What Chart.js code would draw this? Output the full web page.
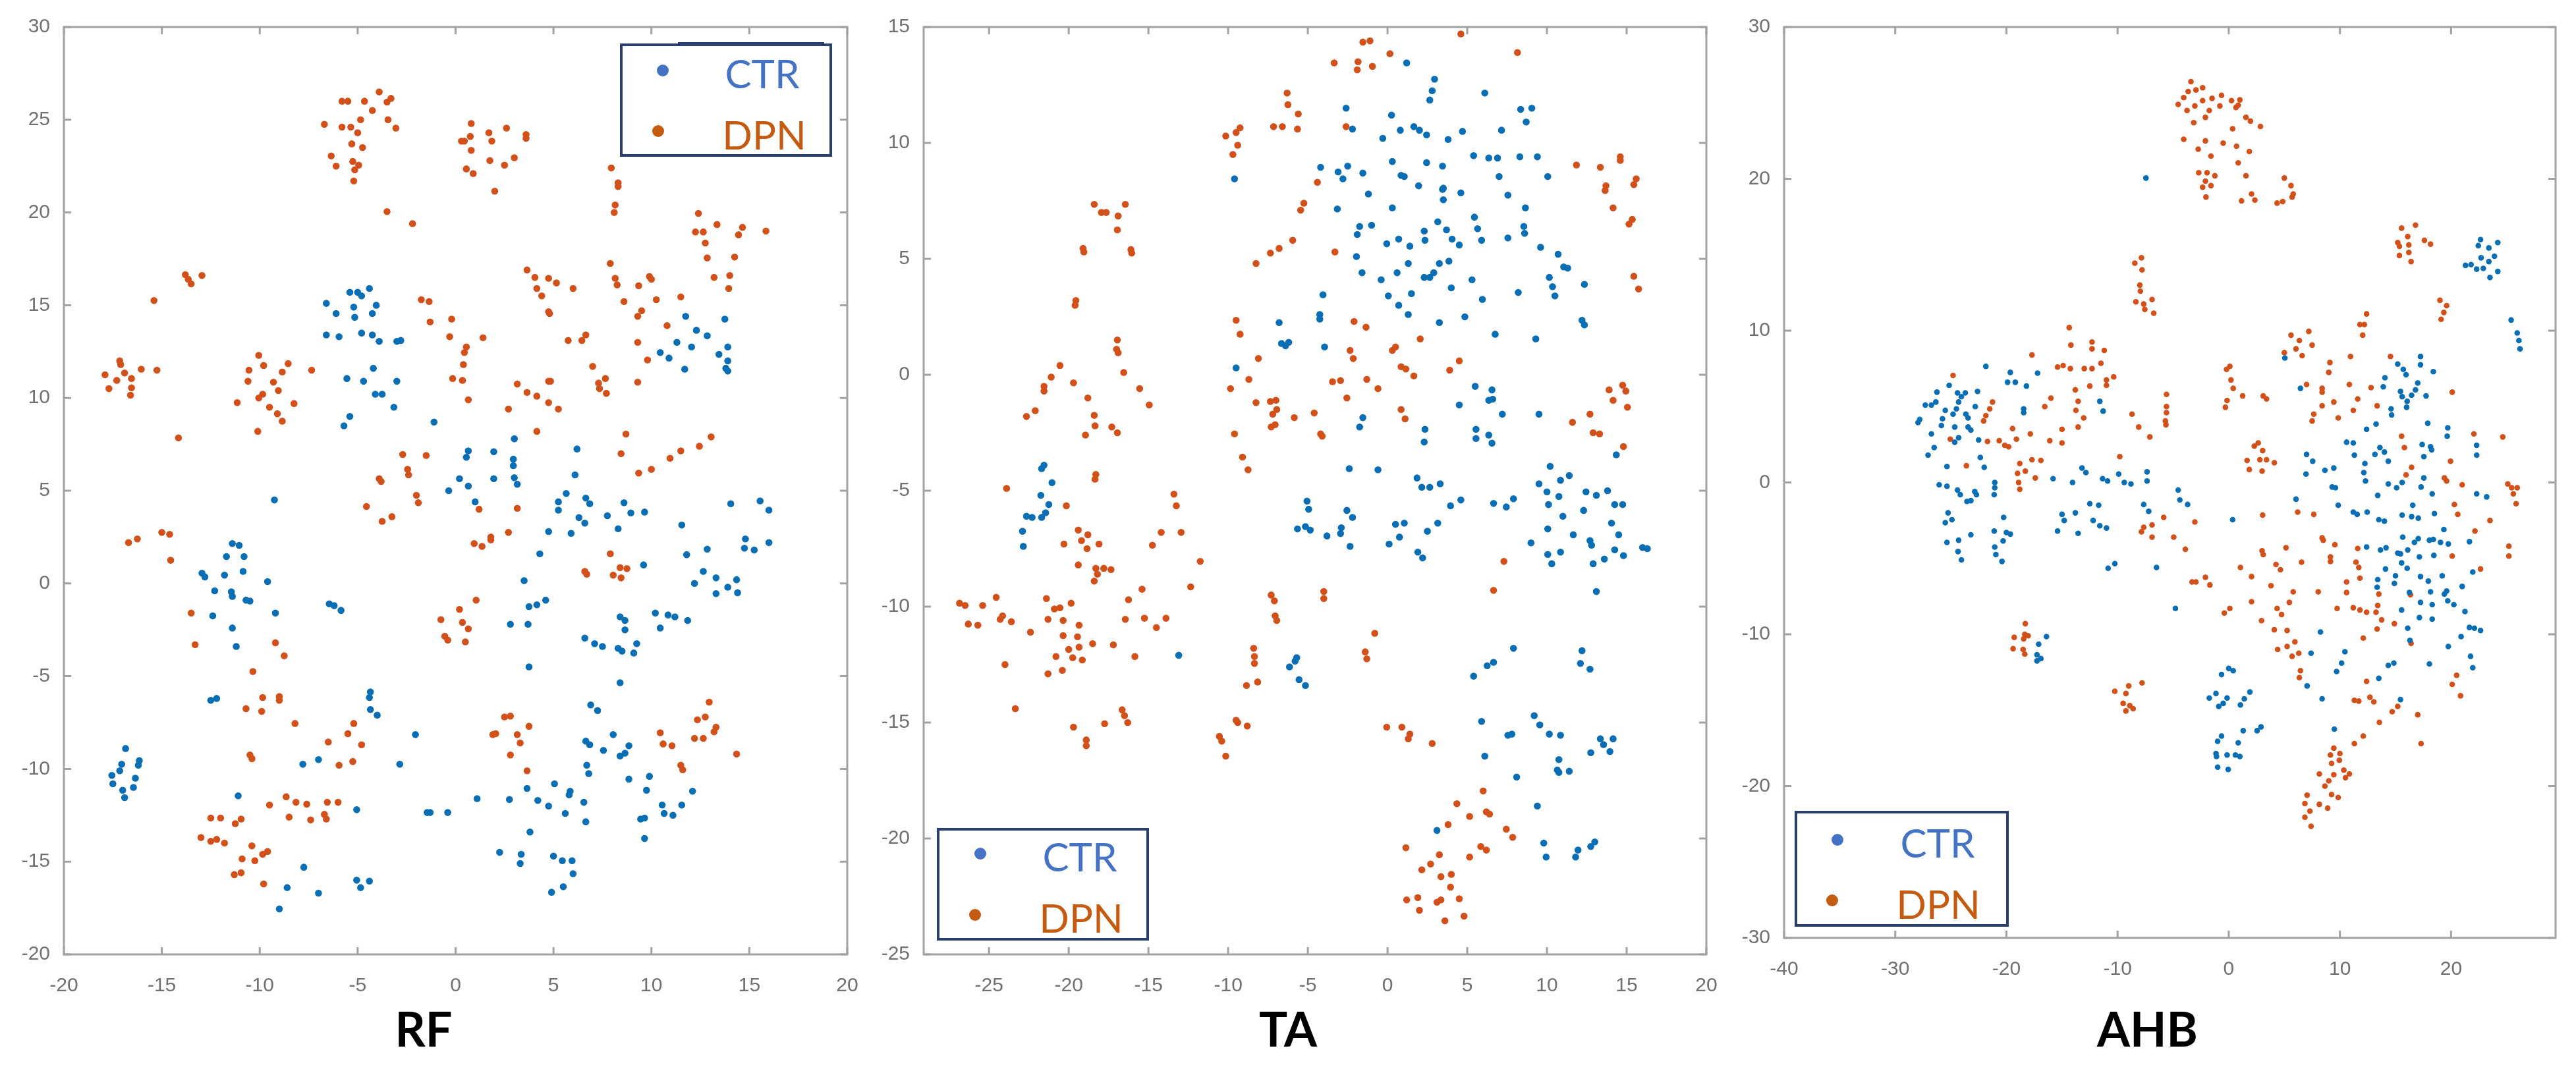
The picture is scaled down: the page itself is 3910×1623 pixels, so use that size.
<!DOCTYPE html>
<html>
<head>
<meta charset="utf-8">
<title>t-SNE RF / TA / AHB</title>
<script src="https://cdn.jsdelivr.net/npm/chart.js@4/dist/chart.umd.min.js"></script>
<style>
  html, body { margin:0; padding:0; background:#fff; width:3910px; height:1623px; overflow:hidden; }
  canvas { position:absolute; top:0; filter:blur(.7px); }
  .legend { position:absolute; box-sizing:border-box; border:4px solid #2a3f6b; background:#fff; z-index:5; }
  .legend span { position:absolute; transform:translate(-50%,-50%); font:60px Lato, sans-serif; line-height:1; }
  .legend i { position:absolute; width:18px; height:18px; border-radius:50%; transform:translate(-50%,-50%); }
  .legend b { position:absolute; left:84px; right:8px; top:-6px; height:3px; background:#2a3f6b; }
</style>
</head>
<body>
<script>
/* ---------- data: [x, y] ---------- */
const seriesNames = ["CTR", "DPN"];

const rfCtr = [[-6.6,15.1],[-5.4,15.7],[-5,15.7],[-4.8,15.5],[-4.4,15.9],[-4.05,15],[-5.2,14.9],[-5.15,14.35],[-6.1,14.55],[-4.25,14.55],[-6.6,13.4],[-5.95,13.3],[-4.8,13.5],[-4.25,13.4],[-3.9,13.05],[-3,13.05],[-2.8,13.1],[-5.55,11.05],[-4.7,10.9],[-4.2,11.6],[-3,10.9],[-4.1,10.2],[-3.75,10.2],[-3.15,9.5],[-5.4,9],[-5.7,8.5],[-1.1,8.7],[-9.25,4.5],[3,7.8],[.65,7.15],[.55,6.8],[1.95,7.1],[2.95,6.7],[2.95,6.35],[6.2,7.25],[6.1,5.85],[.2,5.65],[.65,5.25],[1.95,5.65],[3,5.7],[3.15,5.35],[-.35,5],[1,4.4],[5.65,4.85],[5.25,4.4],[5.25,3.95],[6.65,4.6],[6.85,4.3],[8.6,4.35],[6.3,3.55],[6.6,3.25],[7.75,3.65],[8.95,3.8],[9.65,3.85],[14.05,4.3],[15.55,4.45],[16,3.95],[4.75,2.8],[5.9,2.7],[8.3,2.95],[11.55,3.15],[11.75,14.4],[13.75,14.25],[12.3,13.65],[12.85,13.35],[11.3,13],[12.05,12.75],[13.9,12.75],[13.45,12.35],[10.45,12.45],[10.9,12.15],[11.7,11.55],[13.9,12],[13.8,11.6],[13.9,11.45],
  [14.8,2.4],[14.75,1.9],[15.25,1.8],[16,2.2],[12.85,1.85],[11.8,1.55],[9.6,1],[4.3,1.6],[-11.4,2.15],[-11.05,2.05],[-11.7,1.45],[-10.8,1.45],[-10.85,.65],[-11.8,.45],[-12.95,.55],[-12.8,.35],[-9.6,.1],[-12.3,-.4],[-11.45,-.45],[-11.4,-.7],[-10.7,-.9],[-10.5,-.95],[-9.2,-1.6],[-12.4,-1.75],[-11.4,-2.4],[-11.2,-3.4],[-12.5,-6.3],[-12.2,-6.2],[-6.45,-1.1],[-6.2,-1.2],[-5.85,-1.45],[-4.35,-5.85],[-4.4,-6.15],[-4.35,-6.8],[-4,-7.1],[-2.05,-8.15],[-2.85,-9.75],[-7.8,-9.75],[-7,-9.5],[-5.05,-12.2],[-11.1,-11.45],[-1.45,-12.35],[-1.3,-12.35],[-.4,-12.35],[1.1,-11.6],[2.75,-11.65],[3.65,-11.05],[4.2,-11.7],[4.75,-12],[5.05,-10.8],[5.85,-11.2],[5.8,-11.4],[5.6,-12.4],[6.55,-11.8],[6.65,-12.85],[3.8,-13.4],[2.25,-14.5],[3.35,-14.6],[3.3,-15.1],[5,-14.7],[5.45,-14.95],[5.95,-14.95],[6,-15.65],[5.5,-16.35],[4.9,-16.65],[-7.75,-15.3],[-8.6,-16.4],[-5.05,-16],[-4.85,-16.4],[-4.4,-16.05],[-7,-16.7],[-9,-17.55],
  [-16.85,-8.9],[-16.15,-9.55],[-16.2,-9.8],[-17.05,-9.75],[-17.15,-10.1],[-17.55,-10.35],[-17.5,-10.8],[-16.35,-10.5],[-17,-11.15],[-16.45,-11],[-16.9,-11.55],[12.2,0],[12.65,.65],[13.3,.3],[14.35,.2],[13.9,-.2],[13.3,-.55],[14.4,-.5],[3.5,.15],[4.6,-.9],[4.15,-1.15],[3.75,-1.25],[2.8,-2.2],[3.7,-2.2],[3.75,-4.5],[8.4,-5.35],[8.4,-1.8],[8.65,-2],[8.65,-2.5],[10.2,-1.6],[10.85,-1.7],[11.2,-1.8],[11.85,-2],[10.45,-2.4],[6.6,-2.95],[7.1,-3.25],[7.5,-3.4],[8.3,-3.5],[8.5,-3.65],[9.25,-3.25],[9.1,-3.75],[6.9,-6.55],[7.25,-6.85],[8.05,-8.15],[6.65,-8.5],[6.85,-8.7],[7.55,-9],[8.85,-8.75],[8.4,-9.3],[8.65,-9.15],[6.7,-9.8],[6.8,-10.25],[8.85,-10.55],[9.9,-10.4],[9.75,-11.15],[12.1,-11.2],[10.55,-11.95],[10.65,-12.4],[11.1,-12.5],[11.55,-11.95],[9.45,-12.7],[9.65,-12.65],[9.65,-13.75]];

const rfDpn = [[-6.7,24.75],[-5.8,26],[-5.5,26],[-4.65,26],[-3.9,26.5],[-3.3,26.15],[-3.5,25.95],[-4.25,25.5],[-4.85,25],[-5.8,24.6],[-5.35,24.6],[-5,24.3],[-3.45,25],[-3.05,24.55],[-5.3,23.7],[-4.75,23.5],[-6.35,23.05],[-6.1,22.5],[-5.25,22.75],[-5.15,22.3],[-4.95,22.55],[-5.2,21.7],[-3.5,20.05],[-2.2,19.4],[.8,24.8],[2.6,24.55],[1.7,24.3],[1.85,23.85],[.75,24.1],[.45,23.85],[.3,23.85],[3.6,24.2],[3.6,24],[.8,23.35],[3,22.95],[1.75,22.8],[2.5,22.55],[.55,22.35],[.9,22.1],[2,21.15],[7.95,22.4],[8.3,21.6],[8.3,21.4],[8.15,20.4],[8.1,20],[12.4,19.95],[13.35,19.35],[12.25,18.95],[12.65,18.95],[14.65,19.2],[14.45,18.8],[15.85,19],[12.75,18.35],[12.85,17.55],[14.25,17.6],[13.2,16.5],[14,16.6],[13.95,15.9],[11.5,15.45],[7.9,17.25],[8.15,16.45],[8.25,16.1],[8.6,15.2],[9.9,16.55],[10,16.4],[9.35,16.05],[10.25,15.3],[9.5,14.7],[9.3,14.4],[10.8,13.9],[9.3,13],[9.8,12.05],[9.3,10.85],[3.65,16.9],[4.05,16.5],[4.75,16.45],[5.15,16.2],[6,15.9],[4.15,15.9],[4.4,15.5],[4.75,14.65],[4.8,14.55],[5.75,13.1],[6.65,13.4],[6.45,13.1],[7,11.7],[7.65,11.05],[7.3,10.8],[7.35,10.5],[7.7,10.25],[3.15,10.75],[3.65,10.3],[4.15,10.1],[4.75,10.9],[4.85,10.9],[4.75,9.75],[5.25,9.4],[2.7,9.4],[4.15,8.2],[8.7,8.05],[8.45,7],[13.05,7.9],[12.45,7.4],[11.5,7.15],[10.95,6.75],[10,6.15],[9.35,5.95],
  [-1.75,15.3],[-1.35,15.2],[-1.3,14.1],[-.2,14.25],[-.3,13.3],[1.4,13.25],[.55,12.75],[.45,12.45],[.4,11.8],[-.15,11.05],[.35,10.95],[.65,9.9],[-2.7,6.95],[-1.5,6.9],[-2.45,6.15],[-2.4,5.85],[-3.9,5.65],[-3.8,5.5],[-2,4.75],[-1.9,4.35],[-4.55,4.15],[-3.25,3.6],[-3.75,3.35],[1.2,4],[3.15,4.05],[2.7,2.75],[1.8,2.5],[-12.95,16.6],[-13.8,16.65],[-13.65,16.4],[-13.5,16.15],[-15.4,15.25],[-17.15,12],[-17.1,11.8],[-17.9,11.25],[-16.9,11.35],[-16.05,11.55],[-15.25,11.5],[-16.55,11.05],[-17.3,10.95],[-17.7,10.5],[-16.55,10.55],[-16.6,10.15],[-14.15,7.85],[-10.05,12.3],[-9.8,11.75],[-8.55,11.85],[-8.85,11.4],[-10.55,11.5],[-10.6,10.9],[-9.3,10.85],[-7.35,11.5],[-9.05,10.4],[-9.85,10.2],[-10.05,10],[-11.15,9.75],[-8.25,9.7],[-9.5,9.5],[-9.1,9.15],[-8.85,8.75],[-10.1,8.2],
  [-16.7,2.2],[-16.25,2.4],[-15,2.75],[-14.6,2.65],[-14.55,1.25],[-13.5,-1.6],[-13.3,-3.3],[-9.2,-3.2],[-8.75,-3.9],[-10.35,-4.75],[-9.85,-6.15],[-9,-6.1],[-9,-6.3],[-10.7,-6.75],[-9.9,-6.9],[-8.2,-7.55],[-10.5,-9.25],[-10.4,-9.45],[-5.2,-7.55],[-5.5,-8.1],[-6.5,-8.55],[-4.8,-8.7],[-5.25,-9.6],[-5.95,-9.8],[-8.65,-11.5],[-9.5,-11.95],[-8.15,-11.8],[-7.6,-11.9],[-6.55,-11.8],[-6,-11.8],[-8.5,-12.6],[-7.4,-12.75],[-6.7,-12.45],[-6.6,-12.7],[-12.5,-12.65],[-12,-12.65],[-10.95,-12.7],[-11.25,-12.95],[-13,-13.7],[-12.5,-13.9],[-12.2,-13.8],[-11.8,-14],[-10.4,-14.15],[-9.6,-14.45],[-9.85,-14.6],[-10.9,-14.85],[-10.25,-14.95],[-11.3,-15.7],[-10.95,-15.6],[-9.8,-16.2],[.95,2.15],[1.35,2],[1.8,2.35],[1.05,-.9],[.2,-1.4],[-.75,-1.95],[.35,-2.1],[.65,-2.45],[-.55,-2.85],[-.4,-3.05],[.5,-3.15],[7.9,1.6],[6.6,.65],[6.7,.5],[8.05,.45],[8.45,.3],[8.4,.85],[8.75,.8],[2.5,-7.2],[2.8,-7.15],[3.75,-7.7],[1.9,-8.15],[2.05,-8.1],[3.15,-8.15],[3.3,-8.6],[2.8,-9.25],[3.65,-10.1],[12.95,-6.4],[12.35,-7.35],[12.75,-7.2],[13.3,-7.75],[13.2,-8],[10.45,-8.05],[12.2,-8.35],[12.65,-8.35],[10.6,-8.65],[11.05,-8.75],[14.35,-9.2],[11.5,-9.8],[11.6,-10.05]];

const taCtr = [[1.2,13.45],[2.95,12.75],[2.8,12.25],[2.65,11.85],[6.1,12.15],[-2.6,11.5],[8.35,11.45],[9.05,11.5],[8.7,10.9],[.25,11.2],[-2.2,10.6],[.8,10.55],[1.65,10.7],[2,10.55],[2.45,10.35],[-.3,10.2],[3.8,10.15],[4.7,10.5],[7.15,10.55],[-4.2,8.95],[-3.1,8.75],[-2.8,8.45],[-2.5,9],[-1.55,8.7],[.3,9.2],[.85,8.6],[1.05,8.55],[2.45,9.15],[3.45,9],[5.4,9.45],[6.35,9.35],[6.9,9.35],[8.3,9.4],[9.4,9.4],[7,8.55],[10.05,8.55],[1.95,8.15],[3.5,8.05],[3.45,8],[3.5,7.55],[4.6,7.85],[-1.2,7.8],[7.55,7.75],[-3.15,7.15],[.3,7.2],[8.65,7.2],[5.45,6.8],[3.15,6.6],[3.7,6.25],[5.65,6.3],[-1.75,6.4],[-1.9,6.05],[-1,6.45],[2.3,6.2],[8.55,6.4],[8.6,6.1],[7.55,5.9],[5.9,5.8],[4.05,5.85],[4.5,5.6],[.7,5.85],[-.05,5.65],[2.35,5.8],[1.4,5.55],[9.6,5.5],[10.7,5.2],[-1.95,5.1],[1.3,4.8],[3.25,4.8],[3.85,4.9],[2.9,4.4],[2.65,4.2],[2.3,4.2],[.6,4.4],[-1.6,4.4],[-.4,4.1],[5.3,4.1],[11.05,4.65],[11.3,4.6],[10.15,4.2],[10.35,3.8],[10.5,3.4],[12.35,3.9],[4,3.75],[.05,3.4],[1.5,3.5],[8.2,3.55],[5.95,3.25],[.7,3],[-4.05,3.45],[1.3,2.6],[4.85,2.5],[3.25,2.25],[12.2,2.35],[12.35,2.15],[-4.25,2.6],[-4.25,2.4],[-6.8,2.25],[6.75,1.75],[9.3,1.55],[-6.65,1.35],[-6.4,1.25],[-6.2,1.4],[-3.95,1.2],[-9.5,.3],[-9.6,8.45],
  [5.5,-.5],[6.55,-.65],[6.6,-1.05],[6.35,-1.1],[4.5,-1.3],[7.2,-1.7],[9.5,-1.7],[-1.55,-1.85],[-1.75,-2.25],[2.35,-2.35],[2.3,-2.9],[5.55,-2.35],[5.55,-2.75],[6.35,-2.6],[6.55,-2.95],[14.35,-3.45],[10.2,-3.95],[11.4,-4.35],[10.85,-4.55],[9.5,-4.7],[1.85,-4.45],[2.15,-4.85],[2.65,-4.85],[3.3,-4.7],[-2.4,-4.05],[-.6,-4.1],[-21.7,-4.05],[-21.55,-3.9],[-21.05,-4.65],[-21.75,-5.2],[-21.25,-5.6],[-21.45,-5.95],[-21.7,-6.15],[-22.65,-6.1],[-22.3,-6.15],[-22.9,-6.75],[10,-5.05],[10.75,-5.25],[12.45,-5.05],[13.1,-5.2],[13.8,-5],[7.9,-5.35],[4.6,-5.4],[3.95,-5.65],[6.65,-5.55],[7.45,-5.7],[10.1,-5.6],[14.25,-5.6],[14.75,-5.6],[12.3,-5.85],[11,-6.1],[14.05,-6.4],[-5.05,-5.45],[-4.95,-5.8],[-2.55,-5.85],[-2.2,-6.15],[-5.65,-6.65],[-5.15,-6.55],[-4.85,-6.7],[-3.8,-6.95],[-2.9,-6.6],[-2.95,-6.85],[.5,-6.45],[1.05,-6.4],[3.15,-6.4],[2.5,-6.75],[.75,-7],[10.05,-6.65],[11.65,-6.9],[14.5,-6.9],
  [-22.85,-7.4],[.1,-7.3],[1.9,-7.65],[2.2,-7.9],[-2.35,-7.4],[9,-7.25],[10.05,-7.75],[10.3,-8.15],[10.85,-7.65],[12.7,-7.15],[12.8,-7.35],[14.25,-7.55],[14.8,-7.8],[13.6,-7.95],[12.9,-8.15],[16,-7.45],[16.3,-7.5],[13.1,-9.35],[-13.1,-12.1],[-5.7,-12.2],[-5.8,-12.35],[-6.15,-12.6],[-5.55,-13.15],[-5.15,-13.4],[7.9,-11.8],[6.65,-12.4],[6.25,-12.55],[5.4,-13],[12.2,-11.9],[12.1,-12.45],[12.7,-12.7],[5.9,-14.95],[9.2,-14.7],[9.55,-15.1],[7.8,-15.5],[7.55,-15.55],[10.15,-15.5],[10.85,-15.55],[13.35,-15.7],[13.55,-15.95],[14.15,-15.7],[12.75,-16.3],[13.95,-16.25],[6.1,-16.45],[10.75,-16.6],[10.65,-17.05],[10.75,-17.15],[11.4,-17.1],[8.1,-17.35],[9.4,-18.6],[3.1,-19.65],[9.8,-20.2],[9.95,-20.8],[11.95,-20.5],[11.8,-20.8],[12.75,-20.35],[13,-20.15]];

const taDpn = [[4.6,14.7],[-1.55,14.35],[-1.1,14.4],[8.15,13.9],[.15,13.85],[-3.35,13.45],[-1.85,13.5],[-1.9,13.15],[-.95,13.3],[-6.3,12.15],[-6.25,11.65],[-5.6,11.25],[-7.15,10.7],[-6.6,10.7],[-5.65,10.6],[-2.6,10.7],[-10.15,10.3],[-9.25,10.65],[-9.5,10.45],[-9.4,9.9],[-9.7,9.5],[-4.4,8.3],[-5.25,7.4],[-5.45,7.1],[-5.95,5.8],[-6.8,5.45],[-7.35,5.25],[-8.25,4.8],[-3.3,5.3],[11.85,9.05],[13.35,8.95],[14.6,9.25],[14.6,9.4],[13.7,8.15],[13.65,7.95],[15.6,8.45],[15.45,8.2],[14.15,7.2],[15.35,6.7],[15.15,6.5],[15.45,4.25],[15.75,3.7],[-18.4,7.35],[-17.95,7],[-17.65,7],[-16.45,7.35],[-16.9,6.85],[-16.95,6.25],[-19.1,5.45],[-19.05,5.3],[-16.1,5.4],[-16.05,5.25],[-19.55,3.2],[-19.6,3],[-16.95,1.5],[-17,1.1],[-16.9,.95],[-16.55,.1],[-20.55,.4],[-21.1,-.1],[-21.55,-.5],[-21.55,-.7],[-19.7,-.35],[-15.55,-.6],[-18.8,-1],[-14.95,-1.3],[-22.1,-1.55],[-22.65,-1.8],[-18.4,-1.75],[-18.35,-2.2],[-17.3,-2.25],[-16.95,-2.5],[-18.95,-2.6],[-18.3,-4.3],[-18.35,-4.5],[-23.9,-4.9],[-13.4,-5.15],[-13.25,-5.65],[-20.15,-5.65],[-19.4,-6.7],[-18.8,-6.9],[-14.2,-6.8],[-12.95,-6.8],
  [-9.5,2.35],[-9.25,1.75],[-8.1,.7],[-8.7,-.2],[-9.85,-.6],[-8.25,-1.2],[-7.35,-1.15],[-7,-1.1],[-6.95,-1.5],[-7.2,-1.7],[-7.05,-2.15],[-7.3,-2.25],[-5.85,-1.85],[-4.6,-1.65],[-9.6,-2.55],[-4.2,-2.55],[-4.1,-2.65],[-9.1,-3.55],[-8.75,-4.1],[-2.1,2.3],[-1.35,2.05],[-2.35,1.05],[-2.15,.7],[-3.45,-.3],[-2.95,-.25],[-1.3,-.2],[-.6,-.6],[-2.55,-1],[.85,.35],[1.15,.25],[.3,1.05],[.5,1.2],[2.05,1.55],[1.65,-.05],[4.5,.6],[3.9,.2],[.85,-1.5],[1.1,-1.9],[13.9,-.65],[14.75,-.45],[14.95,-.7],[14.15,-1.1],[15.05,-1.4],[12.7,-1.7],[11.6,-2.05],[12.9,-2.5],[13.3,-2.55],[14.8,-3.1],
  [-19.2,-7.15],[-20.3,-7.3],[-18.1,-7.3],[-18.85,-7.5],[-14.75,-7.35],[-11.75,-8.05],[-19.4,-8.2],[-18.3,-8.35],[-17.8,-8.35],[-17.35,-8.4],[-18.2,-8.6],[-18.4,-8.9],[-12.35,-9.15],[-15.4,-9.25],[-16.25,-9.7],[-21.4,-9.65],[-19.85,-9.85],[-24.55,-9.6],[-26.85,-9.85],[-26.5,-9.95],[-25.4,-9.95],[-20.9,-10.1],[-20.55,-10.05],[-24.15,-10.4],[-24.3,-10.55],[-23.6,-10.65],[-26.3,-10.75],[-25.7,-10.8],[-21.3,-10.55],[-20.35,-10.6],[-19.35,-10.8],[-16.45,-10.55],[-15.25,-10.5],[-13.9,-10.5],[-14.5,-10.9],[-22.4,-11.1],[-20.35,-11.25],[-19.45,-11.3],[-18.5,-11.6],[-17.2,-11.65],[-19.35,-11.75],[-20,-11.85],[-20.8,-12.15],[-19.75,-12.2],[-19.15,-12.3],[-15.85,-12.15],[-24,-12.5],[-21.3,-12.9],[-20.4,-12.75],[-23.35,-14.4],[-16.65,-14.45],[-16.5,-14.7],[-16.3,-15],[-17.75,-15.05],[-19.7,-15.2],[-18.9,-15.75],[-18.9,-16],[-7.3,-9.5],[-7.1,-9.75],[-7.05,-10.4],[-6.95,-10.6],[-4,-9.35],[-4,-9.65],[-.8,-11.15],[-1.4,-11.95],[-1.3,-12.25],[-8.4,-11.8],[-8.35,-12.15],[-8.35,-12.45],[-8.15,-13.25],[-8.85,-13.4],[-10.55,-15.6],[-10.4,-15.8],[-9.5,-14.9],[-9.4,-15],[-8.8,-15.15],[-10.15,-16.45],[-.05,-15.2],[.9,-15.2],[1.4,-15.5],[1.3,-15.7],[2.8,-15.9],[7.3,-8.05],[6.65,-9.3],[6,-17.95],[4.35,-18.5],[5.15,-19.05],[6.2,-18.85],[6.4,-18.95],[3.8,-19.4],[7.45,-19.6],[7.85,-19.95],[1.15,-20.4],[5.85,-20.35],[6.2,-20.5],[3.25,-20.7],[5.15,-20.8],[2.7,-21.1],[2.15,-21.35],[4,-21.55],[3.35,-21.65],[3.95,-22.1],[1.2,-22.65],[1.9,-22.55],[4.5,-22.6],[3.35,-22.65],[3.1,-22.75],[2,-23.1],[4.8,-23.35],[3.6,-23.55]];

const ahbCtr = [[-7.45,20.05],[22.65,16],[24.2,15.8],[22.45,15.6],[23.4,15.45],[23.9,14.9],[22.7,14.8],[23.4,14.55],[21.3,14.3],[21.8,14.35],[22.3,14.05],[22.9,14.1],[24.2,13.9],[23.5,13.5],[25.4,10.7],[25.95,9.85],[26.1,9.35],[26.2,8.8],[5.05,8.2],[15.2,7.8],[15.7,7.45],[15.95,7.1],[17.25,8.3],[17.25,7.75],[18.4,7.3],[14.05,6.9],[13.9,6.3],[6.45,6.2],[17,6.55],[16.8,6.1],[16.45,5.75],[16.05,5.35],[15.45,6],[15.6,5.65],[17.75,5.7],[16,4.95],[14.6,4.85],[14.65,4.45],[17.9,3.9],[13.25,3.85],[12.4,3.5],[19.7,3.6],[19.65,3.05],[10.6,2.65],[11.2,2.6],[17.4,2.5],[18.15,2.35],[18.25,2.15],[22.3,2.45],[22.3,1.8],[13.6,2.3],[13.15,1.85],[14,2],[11.3,1.8],[14.35,1.4],[17.55,1.7],[7,1.85],[7.55,1.4],[8.65,.8],[9.45,.95],[6.95,.55],[12.25,1.25],[12.15,.65],[12.3,.1],[17.55,.3],[15.6,0],[14.35,-.1],[15.1,-.35],[17.3,-.3],[18.3,-.75],[22.3,-.75],[23.2,-.95],[13.4,-.85],[9.3,-.3],[9.6,-.35],[6.05,-1.1],[9.85,-1.5],[16.55,-1.5],[11.2,-1.95],[11.55,-2.1],[12.45,-1.95],[15.6,-2.15],[16.45,-2.25],[17.05,-2.35],[18.5,-2.05],[13.5,-2.45],[14,-2.55],[19.35,-3.1],[.35,-2.45],[-4.55,-.5],[-4.4,-1.15],[-3.7,-1.45],[-7.35,.7],[-7.35,.1],[-9.9,.55],[-9.4,0],[-8.8,-.1],[-11.35,.25],[-10.9,.1],[-13.2,.95],[-12.85,.65],[-15.8,.25],[-14.05,0],[-12.5,-1.4],[-11.7,-1.5],[-7.65,-1.45],[-7.2,-1.9],[-11.6,5.35],[-11.3,4.7],
  [-19.9,6.6],[-19.2,6.6],[-19.65,7.25],[-17.2,7.2],[-18.2,6.35],[-21.85,7.65],[-25.15,6.4],[-26.25,5.95],[-24.4,5.9],[-23.7,5.9],[-22.6,6],[-24.05,5.65],[-26.35,5.3],[-26.75,5.1],[-27.3,5.1],[-24.3,5.3],[-22.8,5],[-25.5,4.75],[-24.5,4.85],[-24.8,4.5],[-23.65,4.5],[-23.45,4.25],[-18.45,4.85],[-18.45,4.6],[-25.75,4.2],[-25.85,3.75],[-27.8,4.15],[-27.95,3.95],[-24.65,3.65],[-23.45,3.65],[-23.2,3.45],[-26.75,3.2],[-24.3,2.95],[-24.65,2.65],[-22.5,2.8],[-26.5,2.3],[-27.05,1.8],[-22.35,1.65],[-22,1],[-25.35,1.05],[-26.05,-.15],[-25.35,-.25],[-24.4,-.5],[-24.15,-.8],[-22.85,-.6],[-22.7,-.8],[-23.55,-1.25],[-23.2,-1.2],[-21.05,0],[-21.05,-.35],[-21.1,-.8],[-25.25,-2],[-24.9,-2.45],[-25.5,-2.65],[-20.25,-2.3],[-15,-2.1],[-14.8,-2.5],[-15.4,-3.2],[-13.8,-2],[-12.2,-2.5],[-11.6,-2.85],[-11,-3],[-13.55,-3.35],[-21.1,-3.2],[-20,-3.3],[-19.65,-3.4],
  [-24.3,-3.8],[-23.2,-3.45],[-25.35,-3.95],[-24.35,-4.55],[-24.05,-5.1],[-21.05,-4.25],[-20.95,-4.75],[-20.4,-5.2],[-20.3,-3.85],[-10.85,-5.65],[-10.25,-5.35],[-6.5,-5.6],[-4.8,-8.3],[12.4,-4.25],[13.65,-4.45],[14.15,-4.3],[15.2,-4.65],[15.45,-4.7],[16.1,-4.45],[15.65,-3.6],[16.7,-3.95],[17.05,-3.7],[18.05,-3.8],[18.4,-3.75],[19.05,-3.95],[19.75,-4.05],[21.65,-3.9],[17.15,-4.9],[18.45,-4.8],[15.55,-5.3],[16.05,-5.65],[14.1,-5.7],[15,-6.15],[14.9,-6.65],[13.4,-6.4],[13.35,-6.9],[17.25,-6.2],[17.95,-6.5],[19.2,-6.15],[21.95,-5.9],[21,-6.85],[16.25,-7.25],[18.15,-7.2],[19.6,-7.15],[19.4,-7.35],[19.7,-7.8],[20.25,-8.05],[17.25,-7.9],[18.3,-8.05],[15.55,-8.4],[21.25,-8.5],[17.15,-8.9],[18.3,-9],[16.1,-9.6],[21.65,-9.55],[22.1,-9.6],[22.65,-9.75],[8.25,-9.85],[16.3,-10.4],[20.9,-10.15],[19.75,-10.8],[10.45,-11.15],[7.4,-11.25],[21.75,-11.45],[10.15,-11.9],[9.7,-12.45],[21.95,-12.2],[14.35,-12.05],[14.85,-11.9],[18.05,-11.95],[13.5,-12.9],[7.05,-13.4],[8.4,-14.25],[15.45,-14.3],
  [-17.1,-10.65],[-16.4,-10.15],[-17.25,-11.35],[-16.9,-11.6],[-17.25,-11.75],[0,-12.25],[.4,-12.4],[-.65,-12.65],[1.9,-13.8],[-1.15,-13.9],[-1.75,-14.2],[-.15,-14.2],[1.05,-14.65],[-.9,-14.75],[-.5,-14.55],[1.4,-14.25],[2.9,-16.1],[2.55,-16.35],[1.3,-16.35],[-.65,-16.7],[-1,-17.05],[.85,-17.15],[-1.15,-17.85],[-1.1,-18.05],[-.15,-17.95],[.6,-17.95],[1,-18.05],[-1,-18.75],[-.05,-18.9],[9.5,-16.25]];

const ahbDpn = [[-3.4,26.4],[-2.35,26],[-2.95,25.85],[-3.65,25.75],[-4.05,25.35],[-1.5,25.3],[-2.35,25.15],[-3.05,24.8],[-4.55,24.9],[-.65,25.5],[-.8,24.8],[.25,25.15],[1,25.2],[.85,24.85],[.65,24.7],[-3.75,24.5],[-1.75,24.5],[-2.1,24.05],[-3.15,23.7],[1.55,24.05],[1.95,23.8],[2.85,23.45],[.35,23.3],[-4.05,22.6],[-2.1,22.5],[-.5,22.35],[.7,22.15],[-2.75,21.95],[1.85,21.8],[-1.6,21.5],[.85,21.05],[-2.7,20.4],[-1.95,20.4],[-1.25,20.2],[1.55,20.2],[5,20.05],[-2.1,19.85],[-2.35,19.45],[-1.6,19.55],[5.6,19.55],[5.8,19],[5.7,18.8],[-2.05,18.8],[2.05,19],[2.35,18.6],[1.15,18.55],[4.35,18.4],[4.85,18.5],
  [15.55,16.75],[16.8,16.95],[16.1,16.2],[15.2,15.8],[15.35,15.55],[15.35,14.95],[16.2,15.65],[16.2,15.15],[16.4,14.55],[17.6,15.95],[18.15,15.7],[-7.85,14.8],[-8.45,14.45],[-7.8,14],[-8,13],[-7.95,12.6],[-8.35,11.9],[-7.65,11.75],[-6.9,12.05],[-7.55,11.4],[-6.75,11.15],[19,12],[19.6,11.65],[19.35,11.2],[19.1,10.75],[12.4,11.1],[11.8,10.4],[12.2,10.4],[12.05,9.7],[-14.35,10.2],[-14.2,9.05],[-12.3,9.25],[-12.3,8.8],[-11.2,8.7],[5.6,9.7],[7.2,9.95],[6.35,9.35],[7.5,9.05],[6.05,8.8],[5,8.55],[6.6,8.35],[-17.7,8.4],[10.95,8.3],[14.55,8.3],[9.1,7.9],[9,7.25],[-15.4,7.6],[-14.9,7.7],[-14.25,7.5],[-13,7.5],[-12.3,7.5],[-11.5,7.85],[-24.8,7.05],[-10.35,6.95],[-11,6.75],[-11,6.4],[-12.5,6.35],[-13.8,6.1],[-.2,7.45],[.1,7.65],[.2,6.75],[.4,6.2],[1.25,5.7],[-.15,5.4],[-.3,4.95],[3.1,5.7],[3.4,5.5],[-5.6,5.8],[-5.6,5],[-5.6,4.6],[-5.7,4.05],[-5.65,3.8],[-16,5.55],[-16.55,5],[-13.55,5.35],[-21.25,5.3],[-21.5,4.85],[-21.85,4.4],[-22.05,4.05],[-13.75,4.75],[-13.05,4.25],[-8.7,4.5],[-8.1,3.65],[-7.1,3],[-13.55,3.65],[-15,3.5],[-19.45,3.55],[-17.85,3.2],[-19.1,2.85],[-25.05,2.85],[-20.65,2.75],[-21.7,2.7],[-16.1,2.75],[-15,2.6],[-20.15,2.45],[-19.8,2.35],[-9.8,1.7],[-17.7,1.5],[-16.9,1.45],[-18.8,1.25],[-18.3,.75],[-19,.6],[-17.4,.3],[-23.6,1.1],[-18.9,0],[-18.8,-.45],
  [8.4,6.2],[7,6.45],[8.4,5.95],[10.85,6.45],[12.8,6.25],[11.6,5.5],[9.45,5.3],[8.4,5.05],[13.35,5.05],[11.2,4.75],[9.85,4.25],[7.65,4.5],[7.5,4.05],[20.1,5.95],[22.05,3.2],[24.65,3],[15.55,3.05],[15.8,2.3],[2.65,2.6],[2.3,2.4],[3.05,2.1],[1.65,1.45],[2.8,1.5],[3.4,1.5],[4.1,1.3],[1.85,.85],[3,.75],[19.95,1.4],[16.45,1],[15.95,.5],[19.4,.3],[19.6,.1],[21,-.15],[25.1,-.1],[25.45,-.35],[25.95,-.35],[25.6,-.75],[25.85,-1.4],[20.3,-1.45],[20.6,-2.1],[6.2,-1.95],[7.65,-2.1],[3.05,-2.15],[-3.05,-2.6],[-5.85,-2.3],[-7.65,-2.95],[-6.9,-2.8],[23.5,-2.5],[22.15,-3.2],[8.4,-3.65],
  [-6.9,-3.6],[-4.95,-3.6],[-3.9,-4.4],[-7.85,-3.25],[8.5,-3.8],[9.55,-4.1],[9.15,-4.9],[9.15,-5.2],[5.15,-4.3],[3,-4.5],[3.1,-4.75],[11.6,-4.35],[20.1,-4.85],[25.2,-4.2],[25.2,-4.85],[11.45,-5.25],[11.7,-5.6],[11.8,-6.3],[4.25,-5.4],[4.65,-5.75],[6.55,-5.25],[1.05,-5.6],[2.05,-6.2],[22.65,-5.7],[-2.1,-6.25],[-2.95,-6.55],[-3.3,-6.55],[-1.7,-6.75],[3.8,-6.8],[10.6,-6.55],[10.6,-7.25],[5.8,-7.2],[8.05,-7.2],[13.5,-7.35],[16.35,-7.4],[2.05,-7.85],[5.45,-7.9],[.1,-8.3],[-.4,-8.6],[4.35,-8.3],[4.75,-8.7],[9.75,-8.3],[11.2,-8.25],[11.8,-8.4],[12.4,-8.55],[13.4,-8.1],[13.25,-8.55],[2.95,-9.1],[13.75,-9.05],[14.9,-9.3],[13.35,-9.65],[4.1,-9.7],[5.25,-9.75],[12.1,-10.25],[16.4,-10.6],[5.95,-10.5],[5.25,-10.8],[4.4,-11],[6.3,-11.25],[5.7,-11.45],[6.45,-12.4],[6.35,-12.85],[12.4,-13.1],[20.5,-12.7],[20.1,-13.3],[20.85,-14.05],[11.3,-14.35],[11.7,-14.4],[12.7,-14.15],[13.05,-14.45],[15.2,-14.75],[14.7,-15.1],[17,-15.3],[13.55,-15.8],[12.1,-16.7],[11.3,-17.2],[17.3,-17.2],
  [9.45,-17.5],[9.15,-17.95],[10,-17.85],[9.95,-18.3],[9.25,-18.5],[10.35,-18.95],[10.85,-19.2],[10.5,-19.45],[9.45,-19.25],[8.15,-19.2],[9,-19.65],[8.65,-20],[9.25,-20.55],[9.85,-20.75],[7.05,-20.6],[6.85,-21.15],[8.15,-21.2],[8.9,-21.45],[7.3,-21.65],[6.85,-22.05],[7.4,-22.65],[-18.3,-9.3],[-18.35,-10],[-18.05,-10.1],[-19.3,-10.2],[-18.45,-10.3],[-19.4,-10.95],[-18.5,-11],[-18.35,-11.3],[-7.8,-13.2],[-9,-13.4],[-10.25,-13.75],[-9.25,-13.9],[-9.5,-14.55],[-8.9,-14.7],[-8.6,-14.9],[-9.25,-15.05]];

/* ---------- styles ---------- */
const C = { ctr:"#0a6eb4", dpn:"#d2501a", axis:"#a2a2a2", tick:"#707070",
            legCtr:"#4472c4", legDpn:"#c55a11", title:"#000" };

// MATLAB style box: full frame plus inward ticks on all four sides
const boxPlugin = {
  id:"box",
  afterDatasetsDraw(chart){
    const { ctx, chartArea:a, scales:{ x, y } } = chart;
    const len = 11;
    ctx.save();
    ctx.strokeStyle = C.axis;
    ctx.lineWidth = 3;
    ctx.strokeRect(a.left, a.top, a.right-a.left, a.bottom-a.top);
    ctx.beginPath();
    x.ticks.forEach(t => { const p = x.getPixelForValue(t.value);
      ctx.moveTo(p, a.top); ctx.lineTo(p, a.top+len);
      ctx.moveTo(p, a.bottom); ctx.lineTo(p, a.bottom-len); });
    y.ticks.forEach(t => { const p = y.getPixelForValue(t.value);
      ctx.moveTo(a.left, p); ctx.lineTo(a.left+len, p);
      ctx.moveTo(a.right, p); ctx.lineTo(a.right-len, p); });
    ctx.stroke();
    ctx.restore();
  }
};

function panel(cfg){
  const cv = document.createElement("canvas");
  cv.style.left = cfg.left+"px";
  cv.width = cfg.width; cv.height = 1623;
  document.body.appendChild(cv);
  const tickFont = { family:"'Liberation Sans', Arial, sans-serif", size:30 };
  const ds = (name, data, color) => ({ label:name, data:data.map(p => ({ x:p[0], y:p[1] })),
    backgroundColor:color, borderWidth:0, pointRadius:cfg.radius, pointHoverRadius:cfg.radius });
  new Chart(cv, {
    type:"scatter",
    data:{ datasets:[ ds(seriesNames[0], cfg.ctr, C.ctr), ds(seriesNames[1], cfg.dpn, C.dpn) ] },
    options:{
      responsive:false, animation:false,
      layout:{ padding:{ top:41, right:cfg.padRight, left:0, bottom:0 } },
      plugins:{
        legend:{ display:false }, tooltip:{ enabled:false },
        title:{ display:true, position:"bottom", text:cfg.title, color:C.title,
                font:{ family:"Lato, sans-serif", size:72, weight:"bold", lineHeight:1.2 },
                padding:{ top:0, bottom:14 } }
      },
      scales:{
        x:{ type:"linear", min:cfg.xMin, max:cfg.xMax,
            grid:{ display:false }, border:{ display:false },
            afterFit(s){ s.height = cfg.xAxisH; },
            ticks:{ stepSize:cfg.xStep, includeBounds:false, autoSkip:false, maxRotation:0, color:C.tick, font:tickFont, padding:22 } },
        y:{ type:"linear", min:cfg.yMin, max:cfg.yMax,
            grid:{ display:false }, border:{ display:false },
            afterFit(s){ s.width = cfg.yAxisW; },
            ticks:{ stepSize:cfg.yStep, autoSkip:false, color:C.tick, font:tickFont, padding:13 } }
      }
    },
    plugins:[boxPlugin]
  });
}

function legend(l){
  const d = document.createElement("div");
  d.className = "legend";
  d.style.cssText = `left:${l.x}px;top:${l.y}px;width:${l.w}px;height:${l.h}px`;
  const items = [
    { name:seriesNames[0], color:C.legCtr, dot:l.dotA, text:l.textA },
    { name:seriesNames[1], color:C.legDpn, dot:l.dotB, text:l.textB }
  ];
  items.forEach(it => {
    const i = document.createElement("i");
    i.style.cssText = `left:${it.dot[0]-l.x}px;top:${it.dot[1]-l.y}px;background:${it.color}`;
    const s = document.createElement("span");
    s.textContent = it.name;
    s.style.cssText = `left:${it.text[0]-l.x}px;top:${it.text[1]-l.y}px;color:${it.color}`;
    d.append(i, s);
  });
  if (l.topLine) d.appendChild(document.createElement("b"));   // second rule peeking over the RF legend box
  document.body.appendChild(d);
}

panel({ title:"RF",  left:0,    width:1348, padRight:62, yAxisW:97, xAxisH:73.6, radius:5.3,
        xMin:-20, xMax:20, xStep:5, yMin:-20, yMax:30, yStep:5, ctr:rfCtr, dpn:rfDpn });
panel({ title:"TA",  left:1320, width:1314, padRight:44, yAxisW:82, xAxisH:73.6, radius:5.3,
        xMin:-29.1, xMax:20, xStep:5, yMin:-25, yMax:15, yStep:5, ctr:taCtr, dpn:taDpn });
panel({ title:"AHB", left:2640, width:1248, padRight:9,  yAxisW:68, xAxisH:98.6, radius:4.3,
        xMin:-40, xMax:29.4, xStep:10, yMin:-30, yMax:30, yStep:10, ctr:ahbCtr, dpn:ahbDpn });

legend({ x:941,  y:66,   w:322, h:172, dotA:[1002,103],  dotB:[995,195],   textA:[1153,107],  textB:[1156,200], topLine:true });
legend({ x:1422, y:1257, w:322, h:171, dotA:[1484,1292], dotB:[1476,1385], textA:[1635,1296], textB:[1637,1389] });
legend({ x:2724, y:1231, w:325, h:176, dotA:[2785,1271], dotB:[2777,1363], textA:[2937,1275], textB:[2938,1368] });
</script>
</body>
</html>
